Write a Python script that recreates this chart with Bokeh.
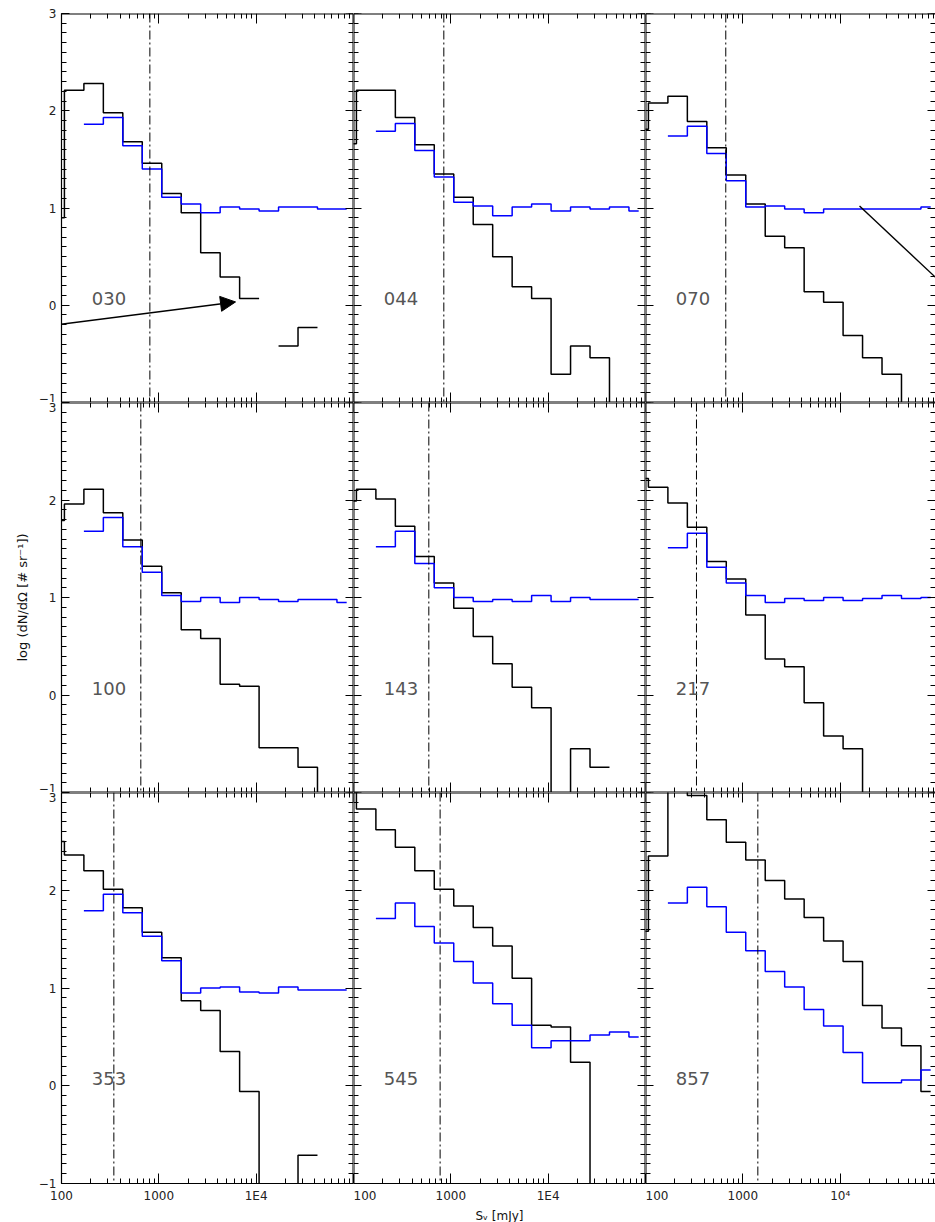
import math
from bokeh.plotting import figure
from bokeh.layouts import gridplot
from bokeh.models import (Range1d, LogAxis, LinearAxis, FixedTicker, Span, Label,
                          Arrow, NormalHead, CustomJSTickFormatter)
from bokeh.embed import file_html
from bokeh.resources import INLINE

nan = float("nan")
EMPTY = -9.0   # log10 of an empty bin: falls below the plotted range

# centres of the 0.2-dex flux bins [mJy]
S_CENTERS = [85.1, 134.9, 213.8, 338.8, 537.0, 851.1, 1349.0, 2138.0, 3388.0,
             5370.0, 8511.0, 13490.0, 21380.0, 33880.0, 53700.0, 85110.0]

CHANNELS = ["030", "044", "070", "100", "143", "217", "353", "545", "857"]

# log (dN/dOmega) -- black histograms
BLACK_030 = [0.90, 2.21, 2.28, 1.98, 1.68, 1.46, 1.15, 0.95, 0.54, 0.29, 0.07, nan, -0.42, -0.23, nan, nan]
BLACK_044 = [1.66, 2.21, 2.21, 1.93, 1.65, 1.35, 1.11, 0.83, 0.50, 0.19, 0.07, -0.71, -0.42, -0.54, EMPTY, EMPTY]
BLACK_070 = [1.81, 2.08, 2.15, 1.89, 1.62, 1.34, 1.04, 0.71, 0.59, 0.14, 0.03, -0.31, -0.54, -0.71, EMPTY, EMPTY]
BLACK_100 = [1.79, 1.96, 2.11, 1.87, 1.59, 1.32, 1.05, 0.67, 0.58, 0.11, 0.09, -0.54, -0.54, -0.74, EMPTY, EMPTY]
BLACK_143 = [1.99, 2.11, 2.01, 1.73, 1.42, 1.15, 0.89, 0.60, 0.32, 0.08, -0.13, EMPTY, -0.55, -0.74, nan, nan]
BLACK_217 = [2.22, 2.13, 1.97, 1.72, 1.37, 1.19, 0.82, 0.37, 0.29, -0.08, -0.42, -0.55, EMPTY, nan, nan, nan]
BLACK_353 = [2.50, 2.36, 2.20, 2.01, 1.82, 1.57, 1.31, 0.87, 0.77, 0.35, -0.06, EMPTY, EMPTY, -0.71, nan, nan]
BLACK_545 = [3.20, 2.83, 2.62, 2.44, 2.20, 2.01, 1.84, 1.62, 1.43, 1.10, 0.62, 0.60, 0.24, EMPTY, nan, nan]
BLACK_857 = [1.58, 2.35, 3.10, 2.97, 2.72, 2.49, 2.31, 2.10, 1.91, 1.72, 1.48, 1.27, 0.82, 0.59, 0.41, -0.06]

# log (dN/dOmega) -- blue histograms
BLUE_030 = [nan, nan, 1.86, 1.93, 1.64, 1.40, 1.11, 1.04, 0.95, 1.01, 0.99, 0.97, 1.01, 1.01, 0.99, 0.99]
BLUE_044 = [nan, nan, 1.79, 1.87, 1.59, 1.32, 1.06, 1.02, 0.92, 1.01, 1.04, 0.97, 1.01, 0.99, 1.01, 0.97]
BLUE_070 = [nan, nan, 1.74, 1.84, 1.56, 1.28, 1.01, 1.02, 0.99, 0.95, 0.99, 0.99, 0.99, 0.99, 0.99, 1.01]
BLUE_100 = [nan, nan, 1.68, 1.82, 1.52, 1.26, 1.02, 0.96, 1.00, 0.95, 1.00, 0.98, 0.96, 0.98, 0.98, 0.95]
BLUE_143 = [nan, nan, 1.52, 1.68, 1.35, 1.10, 1.00, 0.96, 0.98, 0.96, 1.02, 0.96, 1.00, 0.98, 0.98, 0.98]
BLUE_217 = [nan, nan, 1.51, 1.66, 1.31, 1.15, 1.02, 0.95, 0.99, 0.97, 1.00, 0.97, 0.99, 1.02, 0.99, 1.00]
BLUE_353 = [nan, nan, 1.79, 1.96, 1.77, 1.53, 1.28, 0.95, 1.00, 1.01, 0.96, 0.95, 1.01, 0.98, 0.98, 0.98]
BLUE_545 = [nan, nan, 1.71, 1.87, 1.63, 1.46, 1.27, 1.05, 0.84, 0.62, 0.39, 0.46, 0.46, 0.52, 0.55, 0.50]
BLUE_857 = [nan, nan, 1.87, 2.03, 1.83, 1.57, 1.38, 1.17, 1.01, 0.78, 0.61, 0.34, 0.03, 0.03, 0.06, 0.16]

BLACK = [BLACK_030, BLACK_044, BLACK_070, BLACK_100, BLACK_143, BLACK_217, BLACK_353, BLACK_545, BLACK_857]
BLUE = [BLUE_030, BLUE_044, BLUE_070, BLUE_100, BLUE_143, BLUE_217, BLUE_353, BLUE_545, BLUE_857]

# flux limits (dash-dot verticals) [mJy]
LIMITS = [809, 847, 668, 653, 594, 334, 345, 776, 1426]

# axis ticks and labels
X_MAJOR = [100, 1000, 10000, 100000]
X_MINOR = [m * 10 ** k for k in (2, 3, 4) for m in range(2, 10)]
Y_MAJOR = [-1, 0, 1, 2, 3]
Y_MINOR = [round(-1 + 0.1 * i, 1) for i in range(41)]
X_LABELS_E = {100: "100", 1000: "1000", 10000: "1E4", 100000: ""}
X_LABELS_P = {100: "100", 1000: "1000", 10000: "10\u2074", 100000: "10\u2075"}
Y_LABELS = {-1: "\u22121", 0: "0", 1: "1", 2: "2", 3: "3"}
Y_TITLE = "log (dN/d\u03a9 [# sr\u207b\u00b9])"
X_TITLE = "S\u1d65 [mJy]"

# annotation arrows (panel 030 arrow, panel 070 line)
ARROW_030 = dict(x_start=23.6, y_start=-0.275, x_end=6138.0, y_end=0.034)
LINE_070 = dict(x0=15810.0, y0=1.02, x1=158500.0, y1=0.08)

FRAME_W = [292, 292, 290]
FRAME_H = [389, 390, 391]
FONT = "DejaVu Sans"


def step_path(centers, vals):
    """IDL psym=10 style histogram path, broken at NaN bins."""
    n = len(centers)
    edges = [math.sqrt(centers[i] * centers[i + 1]) for i in range(n - 1)]
    xs, ys = [], []
    for i, v in enumerate(vals):
        if v != v:
            if xs and xs[-1] == xs[-1]:
                xs.append(nan)
                ys.append(nan)
            continue
        left = centers[0] if i == 0 else edges[i - 1]
        right = centers[-1] if i == n - 1 else edges[i]
        xs += [left, right]
        ys += [v, v]
    return xs, ys


blank = CustomJSTickFormatter(code="return ''")


def panel(idx):
    r, c = divmod(idx, 3)
    x_end = 1e5 if c < 2 else 10 ** (2 + 3 * FRAME_W[2] / FRAME_W[0])
    p = figure(frame_width=FRAME_W[c], frame_height=FRAME_H[r],
               x_axis_type="log", x_range=Range1d(100, x_end), y_range=Range1d(-1, 3),
               x_axis_location=None, y_axis_location=None,
               toolbar_location=None, output_backend="svg",
               min_border_left=61 if c == 0 else 0, min_border_right=0,
               min_border_top=13 if r == 0 else 0, min_border_bottom=38 if r == 2 else 0,
               outline_line_color=None,
               background_fill_color="white", border_fill_color="white")
    p.grid.visible = False

    xt = FixedTicker(ticks=X_MAJOR, minor_ticks=X_MINOR)
    yt = FixedTicker(ticks=Y_MAJOR, minor_ticks=Y_MINOR)
    tick_style = dict(major_tick_line_color="black", minor_tick_line_color="black",
                      major_tick_line_width=1, minor_tick_line_width=1,
                      axis_line_color="black", axis_line_width=2)
    xtick = dict(major_tick_in=10, major_tick_out=0, minor_tick_in=5, minor_tick_out=0)
    ytick = dict(major_tick_in=8, major_tick_out=0, minor_tick_in=5, minor_tick_out=0)
    lab_style = dict(major_label_text_font=FONT, major_label_text_font_size="12px",
                     major_label_text_color="#222")

    # left axis
    if c == 0:
        la = LinearAxis(ticker=yt, major_label_overrides=Y_LABELS, major_label_standoff=5,
                        **lab_style, **tick_style, **ytick)
        la.axis_line_width = 1.2
        if r == 1:
            la.axis_label = Y_TITLE
            la.axis_label_text_font = FONT
            la.axis_label_text_font_size = "13px"
            la.axis_label_text_font_style = "normal"
            la.axis_label_text_color = "#111"
            la.axis_label_standoff = 6
    else:
        la = LinearAxis(ticker=yt, fixed_location=100, formatter=blank, **tick_style, **ytick)
    p.add_layout(la, "left")
    # right axis
    ra = LinearAxis(ticker=yt, fixed_location=x_end, formatter=blank, **tick_style, **ytick)
    if c == 2:
        ra.axis_line_color = None
    p.add_layout(ra, "right")
    # top axis
    ta = LogAxis(ticker=xt, fixed_location=3, formatter=blank, **tick_style, **xtick)
    p.add_layout(ta, "above")
    # bottom axis
    if r == 2:
        ba = LogAxis(ticker=xt, major_label_overrides=X_LABELS_P if c == 2 else X_LABELS_E,
                     major_label_standoff=5, **lab_style, **tick_style, **xtick)
        ba.axis_line_width = 1.2
        if c == 1:
            ba.axis_label = X_TITLE
            ba.axis_label_text_font = FONT
            ba.axis_label_text_font_size = "12px"
            ba.axis_label_text_font_style = "normal"
            ba.axis_label_text_color = "#111"
            ba.axis_label_standoff = 3
    else:
        ba = LogAxis(ticker=xt, fixed_location=-1, formatter=blank, **tick_style, **xtick)
    p.add_layout(ba, "below")

    # histograms
    bx, by = step_path(S_CENTERS, BLACK[idx])
    p.line(bx, by, line_color="black", line_width=1.5)
    ux, uy = step_path(S_CENTERS, BLUE[idx])
    p.line(ux, uy, line_color="#0000ff", line_width=1.5)

    # flux limit
    p.add_layout(Span(location=LIMITS[idx], dimension="height", line_color="black",
                      line_width=1, line_dash="9 3 2 3"))
    # channel label
    p.add_layout(Label(x=205, y=0.07, text=CHANNELS[idx], text_font=FONT,
                       text_font_size="18px", text_color="#555", text_baseline="middle"))
    if CHANNELS[idx] == "030":
        p.add_layout(Arrow(end=NormalHead(size=15, fill_color="black", line_color="black"),
                           line_color="black", line_width=1.5, **ARROW_030))
    if CHANNELS[idx] == "070":
        p.segment(x0=[LINE_070["x0"]], y0=[LINE_070["y0"]], x1=[LINE_070["x1"]],
                  y1=[LINE_070["y1"]], line_color="black", line_width=1.4)
    return p


panels = [panel(i) for i in range(9)]
grid = gridplot([panels[0:3], panels[3:6], panels[6:9]], toolbar_location=None)

open("out.html", "w").write(file_html(grid, INLINE))
